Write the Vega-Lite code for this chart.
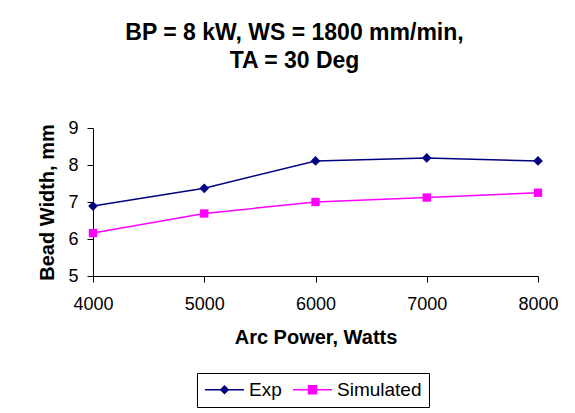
{
  "$schema": "https://vega.github.io/schema/vega-lite/v6.json",
  "autosize": {"type": "none"},
  "padding": {"left": 93, "top": 128, "right": 37, "bottom": 137},
  "width": 445,
  "height": 148,
  "background": "white",
  "config": {
    "font": "Liberation Sans",
    "view": {"stroke": null},
    "axis": {"grid": false, "domainColor": "#000000", "tickColor": "#000000", "labelColor": "#000000", "titleColor": "#000000", "labelFont": "Liberation Sans", "titleFont": "Liberation Sans", "labelFontSize": 18, "titleFontSize": 20, "titleFontWeight": "bold", "labelFontWeight": "normal", "domainWidth": 1, "tickWidth": 1}
  },
  "title": {
    "text": ["BP = 8 kW, WS = 1800 mm/min,", "TA = 30 Deg"],
    "fontSize": 23,
    "fontWeight": "bold",
    "font": "Liberation Sans",
    "color": "#000000",
    "anchor": "middle",
    "dx": -21,
    "offset": 46,
    "lineHeight": 28
  },
  "data": {
    "values": [
      {"power": 4000, "width": 6.89, "series": "Exp"},
      {"power": 5000, "width": 7.37, "series": "Exp"},
      {"power": 6000, "width": 8.11, "series": "Exp"},
      {"power": 7000, "width": 8.19, "series": "Exp"},
      {"power": 8000, "width": 8.11, "series": "Exp"},
      {"power": 4000, "width": 6.16, "series": "Simulated"},
      {"power": 5000, "width": 6.69, "series": "Simulated"},
      {"power": 6000, "width": 7.0, "series": "Simulated"},
      {"power": 7000, "width": 7.12, "series": "Simulated"},
      {"power": 8000, "width": 7.25, "series": "Simulated"}
    ]
  },
  "encoding": {
    "x": {
      "field": "power", "type": "quantitative",
      "scale": {"domain": [4000, 8000], "nice": false, "zero": false},
      "axis": {"values": [4000, 5000, 6000, 7000, 8000], "title": "Arc Power, Watts", "tickSize": 6, "labelPadding": 13, "titlePadding": 14, "format": "d", "labelFlush": false}
    },
    "y": {
      "field": "width", "type": "quantitative",
      "scale": {"domain": [5, 9], "nice": false, "zero": false},
      "axis": {"values": [5, 6, 7, 8, 9], "title": "Bead Width, mm", "tickSize": 6, "labelPadding": 9, "titlePadding": 10, "labelFlush": false}
    }
  },
  "resolve": {"scale": {"color": "shared"}, "legend": {"color": "independent"}},
  "layer": [
    {
      "mark": {"type": "line", "strokeWidth": 1.5},
      "encoding": {
        "color": {
          "field": "series", "type": "nominal",
          "scale": {"domain": ["Exp", "Simulated"], "range": ["#000080", "#FF00FF"]},
          "legend": {
            "title": null,
            "orient": "none",
            "legendX": 104,
            "legendY": 245,
            "direction": "horizontal",
            "strokeColor": "#000000",
            "fillColor": "white",
            "padding": 7,
            "labelFontSize": 19,
            "labelColor": "#000000",
            "labelFont": "Liberation Sans",
            "symbolType": "stroke",
            "symbolSize": 1521,
            "symbolStrokeWidth": 1.5,
            "clipHeight": 19,
            "labelOffset": 4,
            "columnPadding": 10
          }
        }
      }
    },
    {
      "mark": {"type": "point", "filled": true, "opacity": 1},
      "encoding": {
        "color": {
          "field": "series", "type": "nominal",
          "scale": {"domain": ["Exp", "Simulated"], "range": ["#000080", "#FF00FF"]},
          "legend": {
            "title": null,
            "orient": "none",
            "legendX": 115,
            "legendY": 245,
            "direction": "horizontal",
            "strokeColor": null,
            "padding": 7,
            "labelFontSize": 19,
            "labelExpr": "''",
            "labelFont": "Liberation Sans",
            "symbolSize": 90,
            "symbolStrokeWidth": 0,
            "symbolOpacity": 1,
            "clipHeight": 19,
            "labelOffset": 4,
            "columnPadding": 65,
            "encoding": {
              "symbols": {
                "shape": {"value": {"expr": "datum.value === 'Exp' ? 'diamond' : 'square'"}}
              }
            }
          }
        },
        "shape": {
          "field": "series", "type": "nominal",
          "scale": {"domain": ["Exp", "Simulated"], "range": ["diamond", "square"]},
          "legend": null
        },
        "size": {
          "field": "series", "type": "nominal",
          "scale": {"domain": ["Exp", "Simulated"], "range": [95, 70]},
          "legend": null
        }
      }
    }
  ]
}
